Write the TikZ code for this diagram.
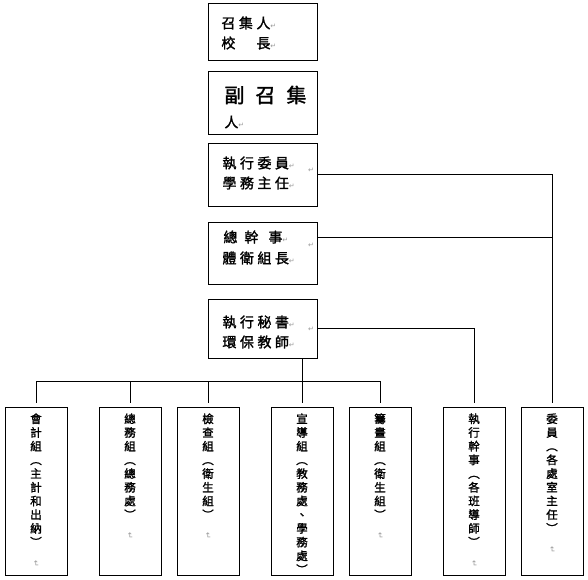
\documentclass[tikz,border=0pt]{standalone}
\usepackage{graphicx}
\usepackage{fontspec}
\newfontfamily\cjk[LetterSpace=25,FakeBold=1.6]{Noto Sans CJK TC}
\newfontfamily\cjkv[FakeBold=1.6]{Noto Sans CJK TC}
\newfontfamily\symf{DejaVu Sans}
\newcommand\parmk{{\symf\color{gray!80}\fontsize{7}{7}\selectfont ↵}}
\newcommand\vmk{{\symf\color{gray!80}\fontsize{8}{8}\selectfont\rotatebox{-90}{↵}}}
\begin{document}
\begin{tikzpicture}[x=1pt,y=-1pt,line width=0.9pt,
  topbox/.style={draw,minimum width=109pt,inner sep=0pt},
  botbox/.style={draw,minimum width=62pt,minimum height=168pt,inner sep=0pt},
  ttext/.style={anchor=west,inner sep=0pt,font=\cjk\fontsize{14}{16}\selectfont},
  vtext/.style={anchor=north,inner sep=0pt,align=center,font=\cjkv\fontsize{11.5}{13.7}\selectfont},
  wire/.style={line width=0.9pt},
  drop/.style={wire,shorten >=4pt}]
\useasboundingbox (0,0) rectangle (588,579);

% top boxes
\node[topbox,minimum height=57pt] (b1) at (262.5,31.5) {};
\node[ttext] (t1a) at (221,23) {召集人\parmk};
\node[ttext] (t1b) at (221,43) {校　長\parmk};

\node[topbox,minimum height=63pt] (b2) at (262.5,102.5) {};
\node[anchor=west,inner sep=0pt,font=\cjkv\fontsize{20}{22}\selectfont] (t2a) at (224,95) {副\hspace{11pt}召\hspace{11pt}集};
\node[ttext] (t2b) at (224,122) {人\parmk};

\node[topbox,minimum height=63pt] (b3) at (262.5,174.5) {};
\node[ttext] (t3a) at (222,163) {執行委員\parmk};
\node[ttext] (t3b) at (222,183) {學務主任\parmk};
\node[inner sep=0pt] (m3) at (311,170) {\parmk};

\node[topbox,minimum height=62pt] (b4) at (262.5,253) {};
\node[ttext] (t4a) at (223,237) {總\hspace{7pt}幹\hspace{10pt}事\parmk};
\node[ttext] (t4b) at (222,258) {體衛組長\parmk};
\node[inner sep=0pt] (m4) at (311,245) {\parmk};

\node[topbox,minimum height=59pt] (b5) at (262.5,328.5) {};
\node[ttext] (t5a) at (222,322) {執行秘書\parmk};
\node[ttext] (t5b) at (222,342) {環保教師\parmk};
\node[inner sep=0pt] (m5) at (311,329) {\parmk};

% bottom boxes
\foreach \n/\x in {1/36,2/130,3/208,4/302,5/380,6/474,7/552}
  \node[botbox] (v\n) at (\x,491) {};

\node[vtext] (w1) at (v1.north |- 0,413) {會\\計\\組\\︵\\主\\計\\和\\出\\納\\︶\\\vmk};
\node[vtext] (w2) at (v2.north |- 0,413) {總\\務\\組\\︵\\總\\務\\處\\︶\\\vmk};
\node[vtext] (w3) at (v3.north |- 0,413) {檢\\查\\組\\︵\\衛\\生\\組\\︶\\\vmk};
\node[vtext] (w4) at (v4.north |- 0,413) {宣\\導\\組\\︵\\教\\務\\處\\、\\學\\務\\處\\︶};
\node[vtext] (w5) at (v5.north |- 0,413) {籌\\畫\\組\\︵\\衛\\生\\組\\︶\\\vmk};
\node[vtext] (w6) at (v6.north |- 0,413) {執\\行\\幹\\事\\︵\\各\\班\\導\\師\\︶\\\vmk};
\node[vtext] (w7) at (v7.north |- 0,413) {委\\員\\︵\\各\\處\\室\\主\\任\\︶\\\vmk};

% connectors
\coordinate (bus) at (302,381);
\draw[drop] (b3.east) -| (v7.north);
\draw[wire] ([yshift=16pt]b4.east) -- ([yshift=16pt]b4.east -| v7.north);
\draw[drop] (b5.east) -| (v6.north);
\draw[wire] (b5.south -| v4.north) -- (bus);
\draw[wire] (v1.north |- bus) -- (v5.north |- bus);
\foreach \n in {1,2,3,4,5}
  \draw[drop] (v\n.north |- bus) -- (v\n.north);
\end{tikzpicture}
\end{document}
